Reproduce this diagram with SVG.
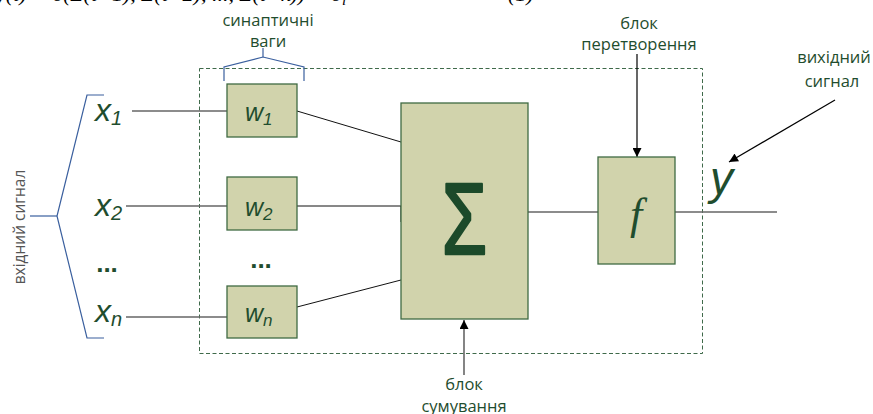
<svg xmlns="http://www.w3.org/2000/svg" width="873" height="414" viewBox="0 0 873 414">
  <style>
    .box { fill: #d1d3ac; stroke: #3f6a43; stroke-width: 1.3; }
    .frame { fill: none; stroke: #3f6a4a; stroke-width: 1; stroke-dasharray: 4 2.5; }
    .brace { fill: none; stroke: #3a5f9e; stroke-width: 1.2; }
    .wire { fill: none; stroke: #666; stroke-width: 1.6; }
    .link { fill: none; stroke: #111; stroke-width: 1; }
    .ptr { fill: none; stroke: #000; stroke-width: 1.2; }
    .lbl { font-family: "Open Sans", "Liberation Sans", sans-serif; font-size: 16.5px; fill: #1f4d2e; text-anchor: middle; }
    .side { font-family: "Open Sans", "Liberation Sans", sans-serif; font-size: 15.5px; fill: #555; text-anchor: middle; }
    .dots { font-family: "Liberation Sans", sans-serif; font-size: 26px; font-weight: bold; fill: #1f4d2e; text-anchor: middle; }
    .sym { font-family: "Liberation Sans", "Open Sans", sans-serif; font-style: italic; fill: #1f4d2e; }
    .formula { font-family: "Liberation Serif", serif; font-style: italic; font-size: 22px; fill: #000; }
  </style>
  <defs>
    <marker id="head" viewBox="0 0 10 10" refX="10" refY="5" markerWidth="10" markerHeight="9" markerUnits="userSpaceOnUse" orient="auto">
      <path d="M0,0 L10,5 L0,10 Z" fill="#000"/>
    </marker>
  </defs>

  <!-- formula line running off the top edge -->
  <text class="formula" x="-4" y="1">y(t) = σ(Σ(t−1), Σ(t−2), ..., Σ(t−k)) = σ<tspan font-size="15" dy="4">i</tspan></text>
  <text class="formula" x="508" y="1" font-style="normal">(1)</text>

  <!-- neuron boundary -->
  <rect class="frame" x="199.5" y="68.5" width="503" height="285"/>

  <!-- connectors -->
  <g id="connectors">
    <line class="wire" x1="132" y1="111" x2="227" y2="111"/>
    <line class="wire" x1="126" y1="206" x2="227" y2="206"/>
    <line class="wire" x1="126" y1="317" x2="227" y2="317"/>
    <line class="link" x1="297" y1="111" x2="401" y2="142"/>
    <line class="link" x1="297" y1="206" x2="401" y2="206"/>
    <line class="link" x1="401" y1="206" x2="401" y2="222" stroke-width="1.5"/>
    <line class="link" x1="297" y1="307" x2="401" y2="280"/>
    <line class="wire" x1="528" y1="212" x2="598" y2="212" stroke-width="1.3"/>
    <line class="wire" x1="675" y1="212" x2="777" y2="212" stroke-width="1.3"/>
    <!-- callout arrows -->
    <line class="ptr" x1="637" y1="54" x2="637" y2="157" marker-end="url(#head)"/>
    <line class="wire" x1="464" y1="375" x2="464" y2="320" stroke-width="1.6" marker-end="url(#head)"/>
    <line class="ptr" x1="835" y1="100" x2="729" y2="162" stroke-width="1" marker-end="url(#head)"/>
  </g>

  <!-- input brace -->
  <g id="input-brace">
    <polyline class="brace" points="104,95 87,95 57,216 87,338 104,338"/>
    <line class="brace" x1="30" y1="216" x2="57" y2="216"/>
    <text class="side" transform="translate(25,227) rotate(-90)">вхідний сигнал</text>
  </g>

  <!-- weights brace -->
  <g id="weights-brace">
    <polyline class="brace" points="224,81 224,67 263,57 304,67 304,81"/>
    <line class="brace" x1="263" y1="57" x2="263" y2="48"/>
    <text class="lbl" x="268" y="26">синаптичні</text>
    <text class="lbl" x="268" y="47">ваги</text>
  </g>

  <!-- inputs -->
  <g id="x1"><text class="sym" x="95" y="121" font-size="32">x<tspan font-size="20" dy="4">1</tspan></text></g>
  <g id="x2"><text class="sym" x="95" y="216" font-size="32">x<tspan font-size="20" dy="4">2</tspan></text></g>
  <g id="x-dots"><text class="dots" x="107" y="272">...</text></g>
  <g id="xn"><text class="sym" x="95" y="322" font-size="32">x<tspan font-size="20" dy="4">n</tspan></text></g>

  <!-- weights -->
  <g id="w1">
    <rect class="box" x="227" y="84" width="70" height="53"/>
    <text class="sym" x="245" y="121" font-size="25">w<tspan font-size="17" dy="4">1</tspan></text>
  </g>
  <g id="w2">
    <rect class="box" x="227" y="177" width="70" height="53"/>
    <text class="sym" x="245" y="216" font-size="25">w<tspan font-size="17" dy="4">2</tspan></text>
  </g>
  <g id="w-dots"><text class="dots" x="261" y="268">...</text></g>
  <g id="wn">
    <rect class="box" x="227" y="286" width="70" height="52"/>
    <text class="sym" x="245" y="322" font-size="25">w<tspan font-size="17" dy="4">n</tspan></text>
  </g>

  <!-- summation block -->
  <g id="sum">
    <rect class="box" x="401" y="103" width="127" height="216"/>
    <text x="0" y="0" transform="translate(464.5,254) scale(0.72,1)" text-anchor="middle" font-family="Liberation Sans, sans-serif" font-size="102" fill="#1c4a2a" stroke="#1c4a2a" stroke-width="2.5" stroke-linejoin="round">Σ</text>
    <text class="lbl" x="464" y="390">блок</text>
    <text class="lbl" x="464" y="412">сумування</text>
  </g>

  <!-- transfer block -->
  <g id="transfer">
    <rect class="box" x="598" y="157" width="77" height="107"/>
    <text x="636" y="229" text-anchor="middle" font-family="Liberation Serif, serif" font-style="italic" font-size="44" fill="#1f4d2e">f</text>
    <text class="lbl" x="639" y="29">блок</text>
    <text class="lbl" x="639" y="50">перетворення</text>
  </g>

  <!-- output -->
  <g id="output">
    <text class="sym" x="710" y="194" font-size="46">y</text>
    <text class="lbl" x="834" y="63">вихідний</text>
    <text class="lbl" x="832" y="87">сигнал</text>
  </g>
</svg>
